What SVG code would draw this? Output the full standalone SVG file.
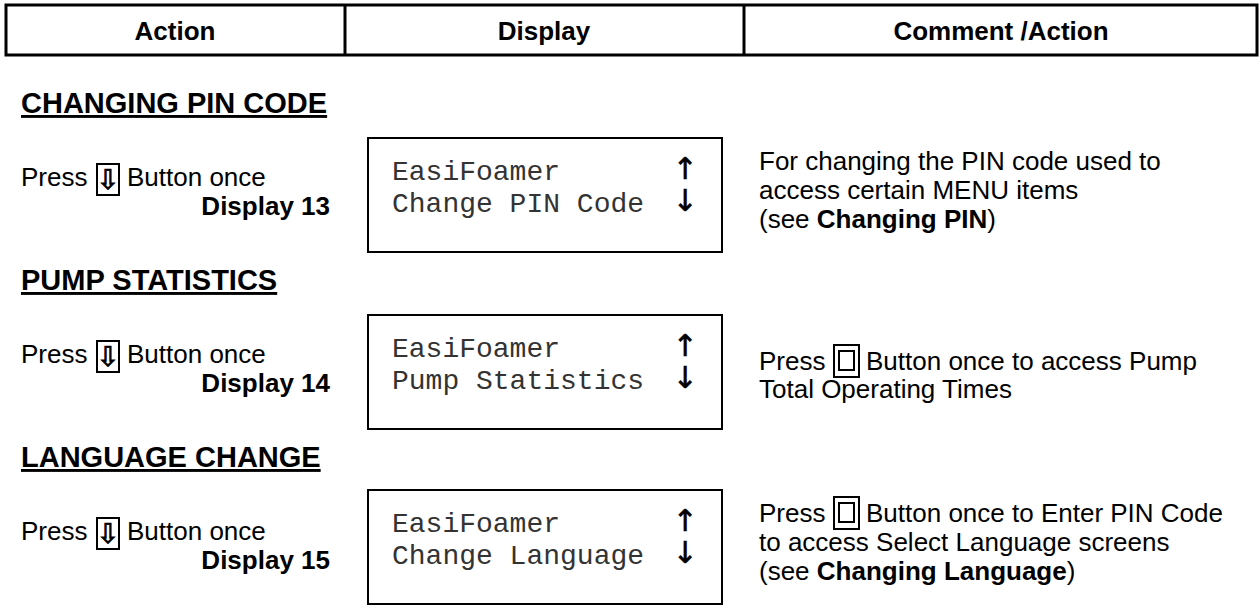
<svg xmlns="http://www.w3.org/2000/svg" width="1260" height="612" viewBox="0 0 1260 612">
<style>
.hdr{font-family:"Liberation Sans",Arial,sans-serif;font-weight:bold;font-size:26px;text-anchor:middle;fill:#000}
.h{font-family:"Liberation Sans",Arial,sans-serif;font-weight:bold;font-size:29px;text-decoration:underline;fill:#000}
.t{font-family:"Liberation Sans",Arial,sans-serif;font-size:26px;fill:#000}
.b{font-weight:bold}
.dn{font-family:"Liberation Sans",Arial,sans-serif;font-weight:bold;font-size:26px;text-anchor:end;fill:#000}
.m{font-family:"Liberation Mono","Courier New",monospace;font-size:28px;fill:#333}
.ar{font-family:"DejaVu Sans",sans-serif;font-size:30px;text-anchor:middle;fill:#000;stroke:#000;stroke-width:0.6}
.box{fill:none;stroke:#000;stroke-width:2}
.ib{fill:none;stroke:#000;stroke-width:2}
.ico{font-family:"DejaVu Sans",sans-serif;font-size:27px;text-anchor:middle;fill:#000;stroke:#000;stroke-width:0.9}
</style>
<rect width="1260" height="612" fill="#fff"/>
<g id="header">
<rect x="6" y="5" width="1251" height="50" fill="none" stroke="#000" stroke-width="3"/>
<line x1="345" y1="5" x2="345" y2="55" stroke="#000" stroke-width="3"/>
<line x1="744" y1="5" x2="744" y2="55" stroke="#000" stroke-width="3"/>
<text class="hdr" x="175" y="40">Action</text>
<text class="hdr" x="544" y="40">Display</text>
<text class="hdr" x="1001" y="40">Comment /Action</text>
</g>
<g id="sec1">
<text class="h" x="21" y="113">CHANGING PIN CODE</text>
<text class="t" x="21" y="186">Press</text>
<rect class="ib" x="97" y="164" width="22" height="31"/>
<text class="ico" x="108" y="189">⇩</text>
<text class="t" x="127" y="186">Button once</text>
<text class="dn" x="330" y="215">Display 13</text>
<rect class="box" x="368" y="138" width="354" height="114"/>
<text class="m" x="392" y="180">EasiFoamer</text>
<text class="m" x="392" y="212">Change PIN Code</text>
<text class="ar" x="685" y="179">↑</text>
<text class="ar" x="685" y="211">↓</text>
<text class="t" x="759" y="170">For changing the PIN code used to</text>
<text class="t" x="759" y="199">access certain MENU items</text>
<text class="t" x="759" y="228">(see <tspan class="b">Changing PIN</tspan>)</text>
</g>
<g id="sec2">
<text class="h" x="21" y="290">PUMP STATISTICS</text>
<text class="t" x="21" y="363">Press</text>
<rect class="ib" x="97" y="341" width="22" height="31"/>
<text class="ico" x="108" y="366">⇩</text>
<text class="t" x="127" y="363">Button once</text>
<text class="dn" x="330" y="392">Display 14</text>
<rect class="box" x="368" y="315" width="354" height="114"/>
<text class="m" x="392" y="357">EasiFoamer</text>
<text class="m" x="392" y="389">Pump Statistics</text>
<text class="ar" x="685" y="356">↑</text>
<text class="ar" x="685" y="388">↓</text>
<text class="t" x="759" y="370">Press</text>
<rect class="ib" x="834" y="345" width="25" height="32"/>
<rect class="ib" x="839" y="351" width="15" height="19"/>
<text class="t" x="866" y="370">Button once to access Pump</text>
<text class="t" x="759" y="398">Total Operating Times</text>
</g>
<g id="sec3">
<text class="h" x="21" y="467">LANGUAGE CHANGE</text>
<text class="t" x="21" y="540">Press</text>
<rect class="ib" x="97" y="518" width="22" height="31"/>
<text class="ico" x="108" y="543">⇩</text>
<text class="t" x="127" y="540">Button once</text>
<text class="dn" x="330" y="569">Display 15</text>
<rect class="box" x="368" y="490" width="354" height="114"/>
<text class="m" x="392" y="532">EasiFoamer</text>
<text class="m" x="392" y="564">Change Language</text>
<text class="ar" x="685" y="531">↑</text>
<text class="ar" x="685" y="563">↓</text>
<text class="t" x="759" y="522">Press</text>
<rect class="ib" x="834" y="497" width="25" height="32"/>
<rect class="ib" x="839" y="503" width="15" height="19"/>
<text class="t" x="866" y="522">Button once to Enter PIN Code</text>
<text class="t" x="759" y="551">to access Select Language screens</text>
<text class="t" x="759" y="580">(see <tspan class="b">Changing Language</tspan>)</text>
</g>
<g id="connectors"/>
</svg>
